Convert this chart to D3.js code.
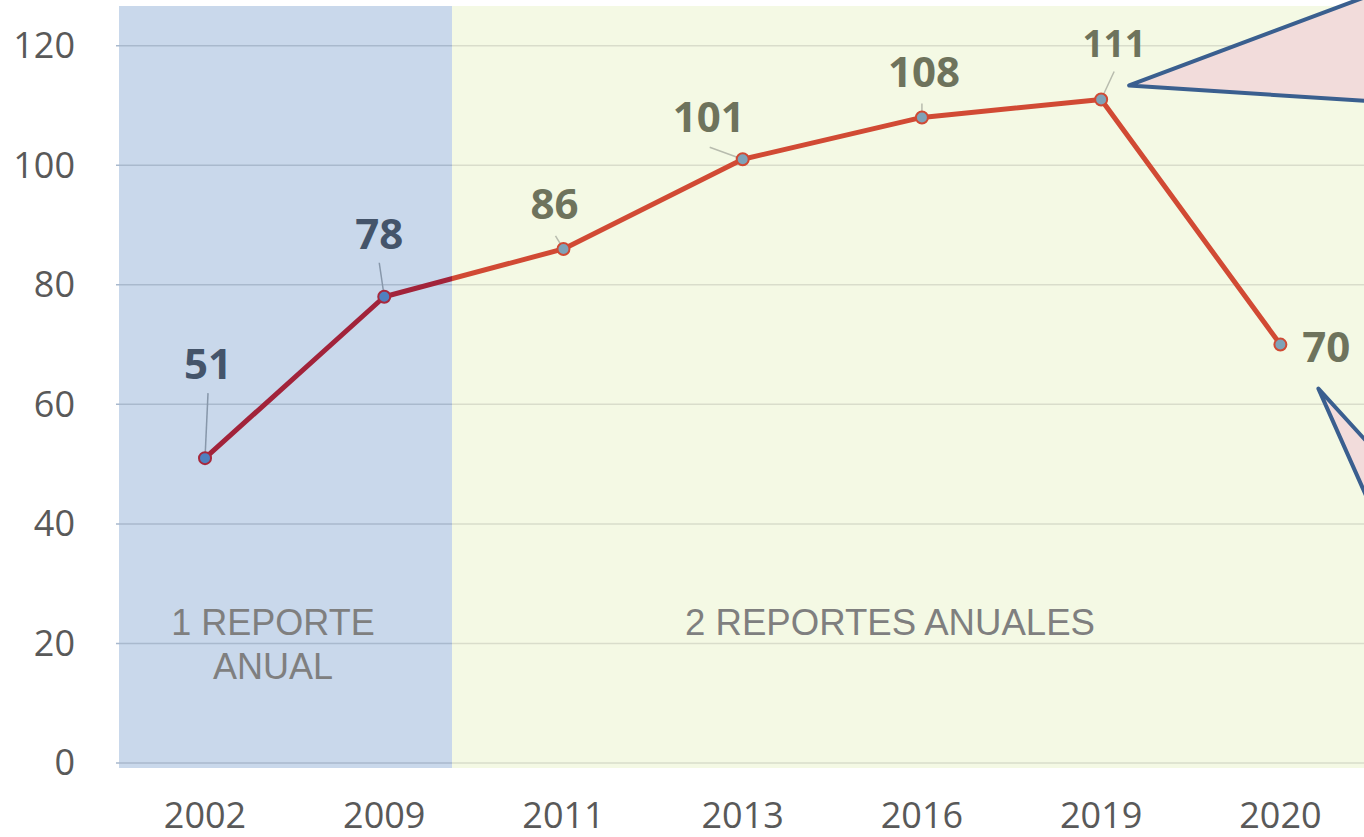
<!DOCTYPE html>
<html>
<head>
<meta charset="utf-8">
<script src="https://cdn.jsdelivr.net/npm/d3@7/dist/d3.min.js"></script>
<style>
  body { margin: 0; background: #fff; }
  svg { display: block; }
  .tick text { font-family: "Open Sans", sans-serif; fill: #595959; }
</style>
</head>
<body>
<div id="chart"></div>
<script>
// Data
var years = ["2002", "2009", "2011", "2013", "2016", "2019", "2020"]
var counts = [51, 78, 86, 101, 108, 111, 70]
var yTicks = [0, 20, 40, 60, 80, 100, 120]
var periodLabels = [["1 REPORTE", "ANUAL"], ["2 REPORTES ANUALES"]]

// label placement relative to each point (px): dx, dy of baseline, leader start
var labelOffsets = [
  { dx: 3, dy: -79, lead: [3, -65], size: 42 },
  { dx: -5, dy: -48, lead: [-5, -34], size: 42 },
  { dx: -9, dy: -30, lead: [-8, -13], size: 42 },
  { dx: -34, dy: -27, lead: [-33, -12], size: 42 },
  { dx: 2, dy: -30, lead: [0, -14], size: 42 },
  { dx: 13, dy: -42, lead: [13, -28], size: 37 },
  { dx: 46, dy: 17, lead: null, size: 42 }
]

var width = 1364, height = 837
var plot = { left: 116, right: 1370, top: 6, bottom: 768 }
var splitX = 452  // where the 1-report period ends

var svg = d3.select("#chart").append("svg")
  .attr("width", width)
  .attr("height", height)

var x = d3.scaleBand()
  .domain(years)
  .range([plot.left - 0.6, plot.right])
var y = d3.scaleLinear()
  .domain([0, 120])
  .range([763, 45.7])

var cx = d => x(d) + x.bandwidth() / 2

// Background periods
svg.append("rect")
  .attr("x", 119).attr("y", plot.top)
  .attr("width", splitX - 119).attr("height", plot.bottom - plot.top)
  .attr("fill", "#c9d8eb")
svg.append("rect")
  .attr("x", splitX).attr("y", plot.top)
  .attr("width", width - splitX).attr("height", plot.bottom - plot.top)
  .attr("fill", "#f4f9e4")

// clip paths for the two periods
var defs = svg.append("defs")
defs.append("clipPath").attr("id", "clipA")
  .append("rect").attr("x", 0).attr("y", 0).attr("width", splitX).attr("height", height)
defs.append("clipPath").attr("id", "clipB")
  .append("rect").attr("x", splitX).attr("y", 0).attr("width", width - splitX).attr("height", height)

var regions = [
  { clip: "clipA", grid: "#a9b9cd", line: "#a2233a", mFill: "#4f80bf", mStroke: "#a8283c", label: "#44546a", lead: "#8797aa" },
  { clip: "clipB", grid: "#d9ddcb", line: "#d14a34", mFill: "#7fa2b8", mStroke: "#d04a34", label: "#6e735c", lead: "#b8bcae" }
]

// Gridlines
regions.forEach(r => {
  svg.append("g")
    .attr("clip-path", `url(#${r.clip})`)
    .selectAll("line")
    .data(yTicks)
    .join("line")
    .attr("x1", plot.left).attr("x2", width)
    .attr("y1", d => y(d)).attr("y2", d => y(d))
    .attr("stroke", r.grid)
    .attr("stroke-width", 1.5)
})

// Period labels
var pl = svg.append("g")
  .attr("font-family", "'Liberation Sans', Arial, sans-serif")
  .attr("font-size", 36)
  .attr("fill", "#7f7f7f")
  .attr("text-anchor", "middle")
pl.append("text").attr("x", 273).attr("y", 635)
  .selectAll("tspan").data(periodLabels[0]).join("tspan")
  .attr("x", 273).attr("dy", (d, i) => i ? 44 : 0).text(d => d)
pl.append("text").attr("x", 890).attr("y", 635)
  .attr("font-size", 36.6)
  .text(periodLabels[1][0])

// Axes
var yAxis = d3.axisLeft(y).tickValues(yTicks).tickSize(0).tickPadding(0)
svg.append("g")
  .attr("transform", "translate(75,0)")
  .call(yAxis)
  .call(g => g.select(".domain").remove())
  .selectAll("text").attr("font-size", 36).attr("dy", "0.33em")

var xAxis = d3.axisBottom(x).tickSize(0).tickPadding(0)
svg.append("g")
  .attr("transform", "translate(0,802)")
  .call(xAxis)
  .call(g => g.select(".domain").remove())
  .selectAll("text").attr("font-size", 36).attr("dy", "0.73em")

var pts = years.map((d, i) => ({ year: d, value: counts[i], off: labelOffsets[i] }))

var line = d3.line().x(d => cx(d.year)).y(d => y(d.value))

// Leaders, line, markers, labels per period
regions.forEach(r => {
  var g = svg.append("g").attr("clip-path", `url(#${r.clip})`)

  g.selectAll("line.lead")
    .data(pts.filter(d => d.off.lead))
    .join("line")
    .attr("class", "lead")
    .attr("x1", d => cx(d.year) + d.off.lead[0])
    .attr("y1", d => y(d.value) + d.off.lead[1])
    .attr("x2", d => cx(d.year))
    .attr("y2", d => y(d.value))
    .attr("stroke", r.lead)
    .attr("stroke-width", 1.5)

  g.append("path")
    .datum(pts)
    .attr("d", line)
    .attr("fill", "none")
    .attr("stroke", r.line)
    .attr("stroke-width", 5)
    .attr("stroke-linejoin", "round")

  g.selectAll("circle")
    .data(pts)
    .join("circle")
    .attr("cx", d => cx(d.year))
    .attr("cy", d => y(d.value))
    .attr("r", 6)
    .attr("fill", r.mFill)
    .attr("stroke", r.mStroke)
    .attr("stroke-width", 2)

  g.selectAll("text")
    .data(pts)
    .join("text")
    .attr("x", d => cx(d.year) + d.off.dx)
    .attr("y", d => y(d.value) + d.off.dy)
    .attr("text-anchor", "middle")
    .attr("font-family", "'Open Sans', sans-serif")
    .attr("font-weight", 700)
    .attr("font-size", d => d.off.size)
    .attr("fill", r.label)
    .text(d => d.value)
})

// Callout pointers coming in from the right edge (tip in the middle)
var p19 = [cx("2019"), y(111)]
var p20 = [cx("2020"), y(70)]
var callouts = [
  [[width + 4, -4], [p19[0] + 28, p19[1] - 14], [width + 4, 101]],
  [[width + 4, 443], [p20[0] + 38, p20[1] + 44], [width + 4, 500]]
]
svg.append("g")
  .selectAll("path")
  .data(callouts)
  .join("path")
  .attr("d", d => "M" + d.map(p => p.join(",")).join("L"))
  .attr("fill", "#f2dcdb")
  .attr("stroke", "#3a5f8f")
  .attr("stroke-width", 4)
  .attr("stroke-linejoin", "round")
  .attr("stroke-linecap", "round")
</script>
</body>
</html>
